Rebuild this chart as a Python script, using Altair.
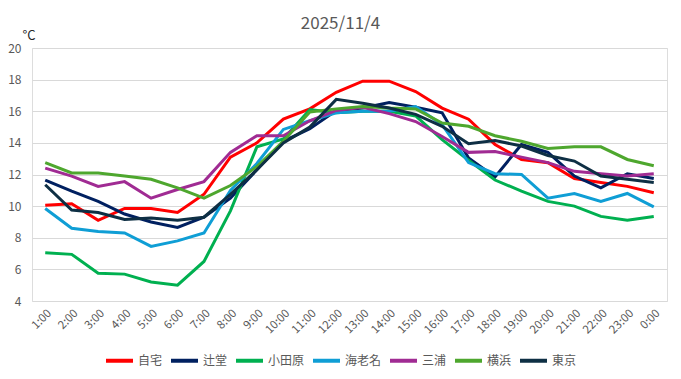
import altair as alt
import pandas as pd

hours = ["1:00", "2:00", "3:00", "4:00", "5:00", "6:00", "7:00", "8:00", "9:00", "10:00",
         "11:00", "12:00", "13:00", "14:00", "15:00", "16:00", "17:00", "18:00", "19:00",
         "20:00", "21:00", "22:00", "23:00", "0:00"]

jitaku = [10.05, 10.15, 9.1, 9.85, 9.85, 9.6, 10.75, 13.1, 14.0, 15.5, 16.15, 17.2,
          17.9, 17.9, 17.25, 16.2, 15.5, 13.9, 12.95, 12.75, 11.75, 11.5, 11.25, 10.85]
tsujido = [11.65, 10.95, 10.3, 9.5, 9.0, 8.65, 9.3, 10.5, 12.3, 14.1, 14.9, 16.05,
           16.2, 16.55, 16.25, 15.9, 13.05, 11.85, 13.9, 13.4, 11.9, 11.15, 12.05, 11.75]
odawara = [7.05, 6.95, 5.75, 5.7, 5.2, 5.0, 6.5, 9.7, 13.75, 14.25, 16.1, 15.9,
           16.0, 16.0, 15.7, 14.2, 12.9, 11.65, 10.95, 10.3, 10.0, 9.35, 9.1, 9.35]
ebina = [9.85, 8.6, 8.4, 8.3, 7.45, 7.8, 8.3, 11.0, 12.7, 14.85, 15.4, 15.9,
         16.0, 16.0, 16.3, 15.15, 12.75, 12.05, 12.0, 10.5, 10.8, 10.3, 10.8, 9.95]
miura = [12.4, 11.9, 11.25, 11.55, 10.5, 11.05, 11.55, 13.4, 14.45, 14.45, 15.4, 16.05,
         16.25, 15.85, 15.35, 14.4, 13.4, 13.45, 13.1, 12.75, 12.2, 12.05, 11.9, 12.05]
yokohama = [12.75, 12.1, 12.1, 11.9, 11.7, 11.15, 10.5, 11.3, 12.5, 14.1, 15.95, 16.15,
            16.3, 16.2, 16.15, 15.25, 15.05, 14.45, 14.1, 13.65, 13.75, 13.75, 12.95, 12.55]
tokyo = [11.35, 9.75, 9.6, 9.15, 9.25, 9.1, 9.3, 10.75, 12.3, 14.0, 15.0, 16.75,
         16.5, 16.2, 15.8, 15.05, 13.95, 14.15, 13.8, 13.2, 12.85, 11.9, 11.7, 11.5]

names = ["自宅", "辻堂", "小田原", "海老名", "三浦", "横浜", "東京"]
colors = ["#FF0000", "#002060", "#00B050", "#0F9ED5", "#A02B93", "#4EA72E", "#0E2F44"]
series = [jitaku, tsujido, odawara, ebina, miura, yokohama, tokyo]
y_ticks = [4, 6, 8, 10, 12, 14, 16, 18, 20]

rows = []
for n, vals in zip(names, series):
    for h, v in zip(hours, vals):
        rows.append({"時刻": h, "地点": n, "気温": v})
df = pd.DataFrame(rows)

FONT = "Noto Sans CJK JP"

chart = alt.Chart(df).mark_line(strokeWidth=3).encode(
    x=alt.X("時刻:N", sort=hours,
            scale=alt.Scale(type="point", padding=0.5),
            axis=alt.Axis(title=None, labelAngle=-45, grid=False, domain=False, ticks=False,
                          labelPadding=6, labelFontSize=11.5, labelColor="#595959",
                          labelFont=FONT)),
    y=alt.Y("気温:Q",
            scale=alt.Scale(domain=[4, 20], nice=False, zero=False),
            axis=alt.Axis(values=y_ticks, title="°C", titleAngle=0, titleX=-10, titleY=-13,
                          titleAlign="left", titleBaseline="middle", titleFontSize=13,
                          titleFontWeight="normal", titleColor="#262626", titleFont=FONT,
                          domain=False, ticks=False, labelPadding=11, labelFontSize=12,
                          labelColor="#595959", labelFont=FONT,
                          gridColor="#D9D9D9", gridWidth=1)),
    color=alt.Color("地点:N", sort=names,
                    scale=alt.Scale(domain=names, range=colors),
                    legend=alt.Legend(title=None, orient="none", direction="horizontal",
                                      legendX=72, legendY=297,
                                      symbolType="stroke", symbolSize=729,
                                      symbolStrokeWidth=4, labelFontSize=12,
                                      labelColor="#595959", labelFont=FONT,
                                      labelOffset=3, columnPadding=0)),
).properties(
    width=635,
    height=253,
    title=alt.TitleParams("2025/11/4", fontSize=17, font=FONT, fontWeight="normal",
                          color="#595959", offset=0, dx=-9, dy=4),
    autosize=alt.AutoSizeParams(type="none"),
    padding={"left": 24, "top": 40, "right": 6, "bottom": 69},
).configure_view(stroke=None).configure(background="white")

chart.save("out.html", embed_options={"renderer": "svg", "actions": False})
